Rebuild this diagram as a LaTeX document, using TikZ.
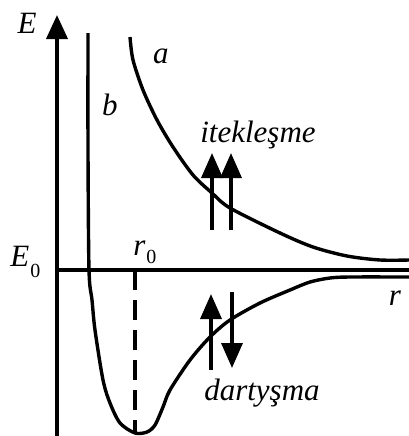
\documentclass[tikz,border=0pt]{standalone}
\usepackage{fontspec}
\setmainfont{Liberation Serif}
\usetikzlibrary{arrows.meta}

\begin{document}
\begin{tikzpicture}[
  x=0.5pt, y=-0.5pt,
  lbl/.style={font=\fontsize{15.5}{18}\selectfont\itshape, inner sep=0pt, anchor=base},
  curve/.style={line width=1.7pt, line join=round},
  axis/.style={line width=1.9pt, -{Triangle[length=12pt,width=10.5pt]}},
  force/.style={line width=1.7pt, -{Triangle[length=12.5pt,width=10.5pt]}},
  guide/.style={line width=1.7pt, dash pattern=on 10pt off 5pt},
]
\useasboundingbox (0,0) rectangle (409,436);

% axes
\coordinate (origin) at (57,270);
\coordinate (ybot) at (57,436);
\coordinate (ytop) at (57,15);
\coordinate (xend) at (409,270);
\draw[axis] (ybot) -- (ytop);
\draw[line width=1.9pt] (origin) -- (xend);

% curve a (repulsion)
\draw[curve] plot[smooth] coordinates {(130,37) (133,60) (143,90) (157,120) (173,147)
  (193,175) (212,193) (230,208) (280,233) (313,247) (347,256) (380,260) (409,260)};

% curve b (potential well)
\draw[curve] plot[smooth] coordinates {(88,33) (88,150) (89,270) (92,300) (95,330)
  (103,380) (110,403) (120,423) (135,433) (147,432) (155,425) (163,407) (170,390)
  (190,360) (210,337) (230,320) (260,303) (290,290) (310,282) (330,278) (350,277) (409,277)};

% equilibrium distance
\coordinate (r0top) at (135,270);
\coordinate (r0bot) at (135,433);
\draw[guide] (r0top) -- (r0bot);

% forces
\coordinate (rep1s) at (212,230);
\coordinate (rep1e) at (212,153);
\coordinate (rep2s) at (231,230);
\coordinate (rep2e) at (231,153);
\draw[force] (rep1s) -- (rep1e);
\draw[force] (rep2s) -- (rep2e);
\coordinate (attus) at (211,370);
\coordinate (attue) at (211,294);
\coordinate (attds) at (232,292);
\coordinate (attde) at (232,368);
\draw[force] (attus) -- (attue);
\draw[force] (attds) -- (attde);

% labels
\node[lbl] (Elbl) at (27,33) {E};
\node[lbl, anchor=base west] (E0lbl) at (10,266) {E\kern0.5pt\raisebox{-5.5pt}{\fontsize{10}{12}\selectfont\upshape 0}};
\node[lbl, anchor=base west] (r0lbl) at (133,255) {r\kern0.5pt\raisebox{-4pt}{\fontsize{10}{12}\selectfont\upshape 0}};
\node[lbl] (rlbl) at (395,305) {r};
\node[lbl] (albl) at (161,63) {a};
\node[lbl] (blbl) at (110,115) {b};
\node[lbl] (itek) at (258,142) {itekleşme};
\node[lbl] (dart) at (262,400) {dartyşma};
\end{tikzpicture}
\end{document}
